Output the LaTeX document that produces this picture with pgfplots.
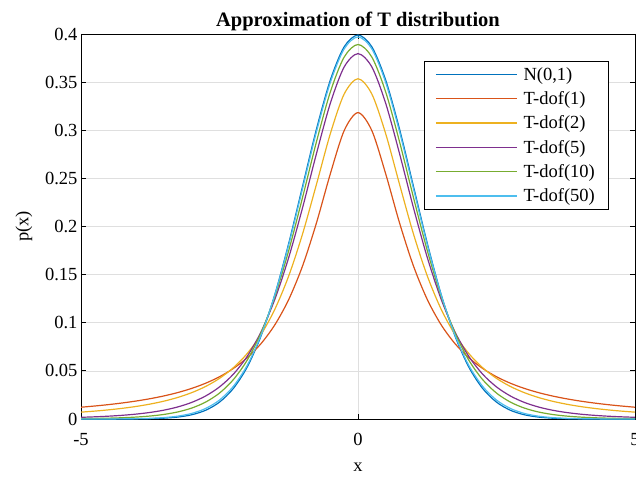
\documentclass[border=0pt]{standalone}
\usepackage{fontspec}
\setmainfont{Liberation Serif}
\usepackage{pgfplots}
\usepackage{pgfplotstable}
\pgfplotsset{compat=1.18}

\definecolor{mblue}{rgb}{0,0.447,0.741}
\definecolor{morange}{rgb}{0.85,0.325,0.098}
\definecolor{myellow}{rgb}{0.929,0.694,0.125}
\definecolor{mpurple}{rgb}{0.494,0.184,0.556}
\definecolor{mgreen}{rgb}{0.466,0.674,0.188}
\definecolor{mcyan}{rgb}{0.301,0.745,0.933}
\definecolor{gridgray}{RGB}{223,223,223}

% densities, step 0.25
\pgfplotstableread{
x n t1 t2 t5 t10 t50
-5 0.00000 0.01224 0.00713 0.00176 0.00040 0.00001
-4.75 0.00001 0.01351 0.00821 0.00227 0.00059 0.00003
-4.5 0.00002 0.01498 0.00953 0.00295 0.00088 0.00007
-4.25 0.00005 0.01670 0.01113 0.00387 0.00133 0.00015
-4 0.00013 0.01872 0.01309 0.00512 0.00203 0.00033
-3.75 0.00035 0.02113 0.01553 0.00685 0.00311 0.00071
-3.5 0.00087 0.02402 0.01859 0.00924 0.00478 0.00149
-3.25 0.00203 0.02753 0.02246 0.01259 0.00738 0.00299
-3 0.00443 0.03183 0.02741 0.01729 0.01140 0.00583
-2.75 0.00909 0.03718 0.03382 0.02393 0.01757 0.01094
-2.5 0.01753 0.04390 0.04220 0.03333 0.02694 0.01969
-2.25 0.03174 0.05250 0.05328 0.04657 0.04089 0.03394
-2 0.05399 0.06366 0.06804 0.06509 0.06115 0.05577
-1.75 0.08628 0.07835 0.08779 0.09054 0.08953 0.08718
-1.5 0.12952 0.09794 0.11413 0.12452 0.12745 0.12920
-1.25 0.18265 0.12422 0.14872 0.16789 0.17511 0.18112
-1 0.24197 0.15915 0.19245 0.21968 0.23037 0.23957
-0.75 0.30114 0.20372 0.24378 0.27570 0.28797 0.29844
-0.5 0.35207 0.25465 0.29630 0.32792 0.33970 0.34955
-0.25 0.38667 0.29959 0.33760 0.36572 0.37600 0.38451
0 0.39894 0.31831 0.35355 0.37961 0.38911 0.39695
0.25 0.38667 0.29959 0.33760 0.36572 0.37600 0.38451
0.5 0.35207 0.25465 0.29630 0.32792 0.33970 0.34955
0.75 0.30114 0.20372 0.24378 0.27570 0.28797 0.29844
1 0.24197 0.15915 0.19245 0.21968 0.23037 0.23957
1.25 0.18265 0.12422 0.14872 0.16789 0.17511 0.18112
1.5 0.12952 0.09794 0.11413 0.12452 0.12745 0.12920
1.75 0.08628 0.07835 0.08779 0.09054 0.08953 0.08718
2 0.05399 0.06366 0.06804 0.06509 0.06115 0.05577
2.25 0.03174 0.05250 0.05328 0.04657 0.04089 0.03394
2.5 0.01753 0.04390 0.04220 0.03333 0.02694 0.01969
2.75 0.00909 0.03718 0.03382 0.02393 0.01757 0.01094
3 0.00443 0.03183 0.02741 0.01729 0.01140 0.00583
3.25 0.00203 0.02753 0.02246 0.01259 0.00738 0.00299
3.5 0.00087 0.02402 0.01859 0.00924 0.00478 0.00149
3.75 0.00035 0.02113 0.01553 0.00685 0.00311 0.00071
4 0.00013 0.01872 0.01309 0.00512 0.00203 0.00033
4.25 0.00005 0.01670 0.01113 0.00387 0.00133 0.00015
4.5 0.00002 0.01498 0.00953 0.00295 0.00088 0.00007
4.75 0.00001 0.01351 0.00821 0.00227 0.00059 0.00003
5 0.00000 0.01224 0.00713 0.00176 0.00040 0.00001
}\dens

\begin{document}
\begin{tikzpicture}
\begin{axis}[
    scale only axis,
    width=554pt, height=385pt,
    xmin=-5, xmax=5, ymin=0, ymax=0.4,
    xtick={-5,0,5},
    ytick={0,0.05,...,0.4},
    yticklabels={0,0.05,0.1,0.15,0.2,0.25,0.3,0.35,0.4},
    grid=major,
    grid style={draw=gridgray, line width=0.6pt},
    tick align=inside,
    major tick length=5pt,
    axis line style={line width=0.8pt},
    tick style={line width=0.8pt, black},
    /pgf/number format/assume math mode=true,
    ticklabel style={font=\fontsize{18.5}{21}\selectfont},
    xticklabel style={yshift=-11pt},
    label style={font=\fontsize{18.5}{21}\selectfont},
    xlabel={x}, ylabel={p(x)},
    xlabel style={yshift=-10pt},
    ylabel style={yshift=6pt},
    title={Approximation of T distribution},
    title style={font=\bfseries\fontsize{20.5}{23}\selectfont, yshift=-6pt},
    legend cell align=left,
    legend style={at={(axis description cs:1,1)}, anchor=north east,
        xshift=-27pt, yshift=-27pt,
        font=\fontsize{18.5}{21}\selectfont,
        inner xsep=11pt, inner ysep=4pt,
        row sep=5.8pt, column sep=4pt,
        nodes={inner sep=2pt}},
    legend image code/.code={\draw[#1, line width=1.5pt] (0pt,0pt) -- (81pt,0pt);},
    every axis plot/.append style={line width=1.2pt, smooth, no markers},
]
\addplot[mblue] table[x=x, y=n] {\dens};
\addplot[morange] table[x=x, y=t1] {\dens};
\addplot[myellow] table[x=x, y=t2] {\dens};
\addplot[mpurple] table[x=x, y=t5] {\dens};
\addplot[mgreen] table[x=x, y=t10] {\dens};
\addplot[mcyan] table[x=x, y=t50] {\dens};
\legend{{N(0,1)},{T-dof(1)},{T-dof(2)},{T-dof(5)},{T-dof(10)},{T-dof(50)}}
\end{axis}
\pgfresetboundingbox
\path ([shift={(-81pt,-57pt)}]current axis.south west) rectangle ([shift={(1pt,34pt)}]current axis.north east);
\end{tikzpicture}
\end{document}
